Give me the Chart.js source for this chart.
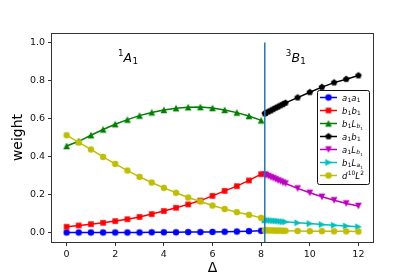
<!DOCTYPE html>
<html>
<head>
<meta charset="utf-8">
<script src="https://cdn.jsdelivr.net/npm/chart.js@4.4.1/dist/chart.umd.min.js"></script>
<style>
html, body { margin: 0; padding: 0; background: #fff; }
</style>
</head>
<body>
<canvas id="weightChart" width="415" height="277"></canvas>
<script>
// Delta grid: left region (1A1) and right region (3B1)
var deltaLeft = [0, 0.5, 1, 1.5, 2, 2.5, 3, 3.5, 4, 4.5, 5, 5.5, 6, 6.5, 7, 7.5, 8];
var deltaRight = [8.15, 8.2, 8.3, 8.4, 8.5, 8.6, 8.7, 8.8, 8.9, 9.0, 9.5, 10, 10.5, 11, 11.5, 12];

// weights, 1A1 side
var a1a1 = [0, 0, 0, 0, 0, 0, 0, 0.001, 0.001, 0.001, 0.002, 0.002, 0.003, 0.004, 0.005, 0.007, 0.009];
var b1b1 = [0.030, 0.037, 0.044, 0.051, 0.060, 0.070, 0.082, 0.097, 0.113, 0.130, 0.148, 0.168, 0.193, 0.219, 0.244, 0.274, 0.307];
var b1Lb1 = [0.455, 0.480, 0.512, 0.542, 0.570, 0.594, 0.615, 0.632, 0.645, 0.654, 0.659, 0.660, 0.655, 0.645, 0.631, 0.613, 0.590];
var d10L2Left = [0.512, 0.474, 0.437, 0.398, 0.361, 0.326, 0.293, 0.263, 0.235, 0.209, 0.184, 0.163, 0.142, 0.124, 0.107, 0.093, 0.077];

// weights, 3B1 side
var a1b1 = [0.626, 0.629, 0.636, 0.642, 0.649, 0.656, 0.662, 0.669, 0.675, 0.682, 0.710, 0.738, 0.765, 0.789, 0.807, 0.826];
var a1Lb1 = [0.305, 0.302, 0.297, 0.291, 0.286, 0.280, 0.274, 0.269, 0.263, 0.258, 0.232, 0.209, 0.188, 0.170, 0.153, 0.140];
var b1La1 = [0.066, 0.065, 0.064, 0.063, 0.062, 0.061, 0.060, 0.058, 0.057, 0.056, 0.051, 0.047, 0.042, 0.038, 0.034, 0.030];
var d10L2Right = [0.012, 0.012, 0.011, 0.011, 0.011, 0.010, 0.010, 0.010, 0.009, 0.009, 0.008, 0.007, 0.007, 0.006, 0.006, 0.005];

var transitionDelta = 8.15;
var xTicks = [0, 2, 4, 6, 8, 10, 12];
var yTicks = [0, 0.2, 0.4, 0.6, 0.8, 1.0];
var seriesNames = ['a_1a_1', 'b_1b_1', 'b_1L_{b_1}', 'a_1b_1', 'a_1L_{b_1}', 'b_1L_{a_1}', 'd^{10}L^2'];
var regionLabels = ['^1A_1', '^3B_1'];
var regionLabelAt = [[2.1, 0.9], [9.0, 0.9]];

var FONT = '"DejaVu Sans", sans-serif';

// little canvases used as matplotlib-like markers
function makeMarker(shape, color) {
    var c = document.createElement('canvas');
    c.width = 10; c.height = 10;
    var g = c.getContext('2d');
    g.fillStyle = color;
    g.translate(5, 5);
    g.beginPath();
    if (shape === 'o') {
        g.arc(0, 0, 3.2, 0, Math.PI * 2);
    } else if (shape === 's') {
        g.rect(-2.8, -2.8, 5.6, 5.6);
    } else if (shape === '^') {
        g.moveTo(0, -3.4); g.lineTo(3.4, 3.2); g.lineTo(-3.4, 3.2);
    } else if (shape === 'v') {
        g.moveTo(0, 3.4); g.lineTo(3.4, -3.2); g.lineTo(-3.4, -3.2);
    } else if (shape === '>') {
        g.moveTo(3.4, 0); g.lineTo(-3.2, 3.4); g.lineTo(-3.2, -3.4);
    } else if (shape === 'p') {
        for (var k = 0; k < 5; k++) {
            var ang = -Math.PI / 2 + k * 2 * Math.PI / 5;
            g.lineTo(3.5 * Math.cos(ang), 3.5 * Math.sin(ang));
        }
    }
    g.closePath();
    g.fill();
    return c;
}

var styles = [
    { color: '#0000ff', marker: 'o' },
    { color: '#ff0000', marker: 's' },
    { color: '#008000', marker: '^' },
    { color: '#000000', marker: 'p' },
    { color: '#bf00bf', marker: 'v' },
    { color: '#00bfbf', marker: '>' },
    { color: '#bfbf00', marker: 'o' }
];
styles.forEach(function (s) { s.img = makeMarker(s.marker, s.color); });

function pts(xs, ys) {
    return xs.map(function (x, i) { return { x: x, y: ys[i] }; });
}

function series(idx, xs, ys) {
    var s = styles[idx];
    return {
        data: pts(xs, ys),
        borderColor: s.color,
        backgroundColor: s.color,
        borderWidth: 1.5,
        pointStyle: s.img,
        pointRadius: 3,
        tension: 0,
        order: 10 - idx
    };
}

// mathtext-ish renderer: _x, ^x, _{..}, ^{..}
function parseMath(s) {
    var i = 0;
    function grp() {
        var out = [];
        while (i < s.length && s[i] !== '}') {
            var c = s[i++];
            if (c === '_' || c === '^') {
                var arg;
                if (s[i] === '{') { i++; arg = grp(); i++; }
                else arg = [{ t: s[i++] }];
                out.push({ k: c, arg: arg });
            } else out.push({ t: c });
        }
        return out;
    }
    return grp();
}

function drawMath(ctx, nodes, x, y, size) {
    nodes.forEach(function (n) {
        if (n.t !== undefined) {
            var digit = /[0-9]/.test(n.t);
            ctx.font = (digit ? '' : 'italic ') + size + 'px ' + FONT;
            ctx.fillText(n.t, x, y);
            x += ctx.measureText(n.t).width;
        } else if (n.k === '_') {
            x = drawMath(ctx, n.arg, x + size * 0.03, y + size * 0.22, size * 0.7);
        } else {
            x = drawMath(ctx, n.arg, x + size * 0.03, y - size * 0.45, size * 0.7);
        }
    });
    return x;
}

var decorations = {
    id: 'decorations',
    afterDraw: function (chart) {
        var ctx = chart.ctx, a = chart.chartArea;
        var xs = chart.scales.x, ys = chart.scales.y;
        ctx.save();

        // spines
        ctx.strokeStyle = '#333';
        ctx.lineWidth = 1;
        ctx.strokeRect(Math.round(a.left) - 0.5, Math.round(a.top) + 0.5,
            Math.round(a.right - a.left) + 1, Math.round(a.bottom - a.top));

        // region labels
        ctx.fillStyle = '#000';
        ctx.textBaseline = 'alphabetic';
        ctx.textAlign = 'left';
        regionLabels.forEach(function (lab, i) {
            drawMath(ctx, parseMath(lab), xs.getPixelForValue(regionLabelAt[i][0]),
                ys.getPixelForValue(regionLabelAt[i][1]), 12.5);
        });

        // axis titles
        ctx.font = '14px ' + FONT;
        ctx.textAlign = 'center';
        ctx.textBaseline = 'middle';
        ctx.fillText('\u0394', (a.left + a.right) / 2, 268.5);
        ctx.save();
        ctx.translate(18, (a.top + a.bottom) / 2);
        ctx.rotate(-Math.PI / 2);
        ctx.fillText('weight', 0, 0);
        ctx.restore();

        // legend
        var lx = 317.5, ly = 90.5, lw = 52, lh = 94;
        ctx.beginPath();
        if (ctx.roundRect) ctx.roundRect(lx, ly, lw, lh, 2); else ctx.rect(lx, ly, lw, lh);
        ctx.fillStyle = '#fff';
        ctx.fill();
        ctx.strokeStyle = '#111';
        ctx.lineWidth = 1;
        ctx.stroke();
        ctx.textAlign = 'left';
        ctx.textBaseline = 'alphabetic';
        seriesNames.forEach(function (name, i) {
            var s = styles[i];
            var y = 97.5 + i * 13;
            ctx.strokeStyle = s.color;
            ctx.lineWidth = 1.5;
            ctx.beginPath();
            ctx.moveTo(320, y);
            ctx.lineTo(337, y);
            ctx.stroke();
            ctx.drawImage(s.img, 328.5 - 5, y - 5);
            ctx.fillStyle = '#000';
            drawMath(ctx, parseMath(name), 342, y + 3, 8.5);
        });
        ctx.restore();
    }
};

var tickFont = { family: FONT, size: 9.5 };

var datasets = [
    series(0, deltaLeft, a1a1),
    series(1, deltaLeft, b1b1),
    series(2, deltaLeft, b1Lb1),
    series(3, deltaRight, a1b1),
    series(4, deltaRight, a1Lb1),
    series(5, deltaRight, b1La1),
    series(6, deltaLeft, d10L2Left),
    series(6, deltaRight, d10L2Right),
    {
        data: [{ x: transitionDelta, y: -0.05 }, { x: transitionDelta, y: 1.0 }],
        borderColor: '#1f77b4',
        borderWidth: 1.5,
        pointRadius: 0,
        order: 0
    }
];

new Chart(document.getElementById('weightChart').getContext('2d'), {
    type: 'line',
    data: { datasets: datasets },
    options: {
        responsive: false,
        animation: false,
        devicePixelRatio: 1,
        layout: { padding: { top: 33, right: 42, left: 0, bottom: 0 } },
        plugins: { legend: { display: false }, tooltip: { enabled: false } },
        scales: {
            x: {
                type: 'linear',
                min: -0.6,
                max: 12.6,
                afterBuildTicks: function (s) { s.ticks = xTicks.map(function (v) { return { value: v }; }); },
                afterFit: function (s) { s.height = 35; },
                grid: { display: true, drawOnChartArea: false, drawTicks: true, tickLength: 4, color: '#333', lineWidth: 1 },
                border: { display: false },
                ticks: { font: tickFont, color: '#111', padding: 3, maxRotation: 0, autoSkip: false }
            },
            y: {
                type: 'linear',
                min: -0.05,
                max: 1.05,
                afterBuildTicks: function (s) { s.ticks = yTicks.map(function (v) { return { value: v }; }); },
                afterFit: function (s) { s.width = 52; },
                grid: { display: true, drawOnChartArea: false, drawTicks: true, tickLength: 4, color: '#333', lineWidth: 1 },
                border: { display: false },
                ticks: {
                    font: tickFont, color: '#111', padding: 3, autoSkip: false,
                    callback: function (v) { return v.toFixed(1); }
                }
            }
        }
    },
    plugins: [decorations]
});
</script>
</body>
</html>
